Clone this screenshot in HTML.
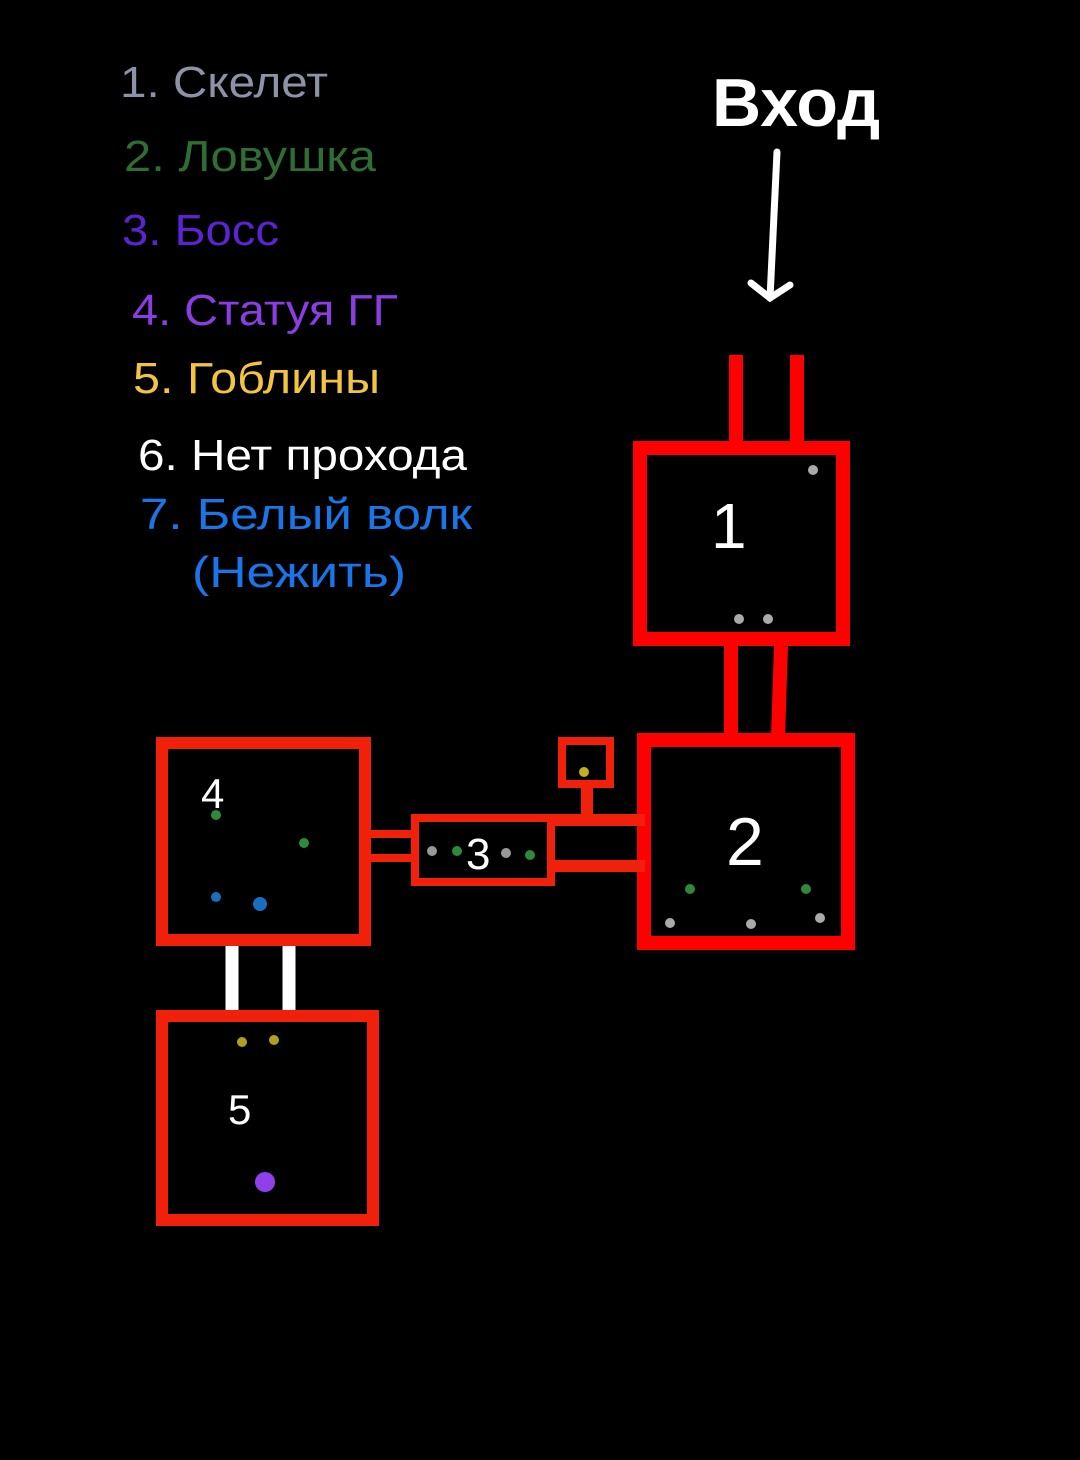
<!DOCTYPE html>
<html><head><meta charset="utf-8"><style>
html,body{margin:0;padding:0;background:#000;}
svg{display:block}
</style></head><body>
<svg width="1080" height="1460" viewBox="0 0 1080 1460" xmlns="http://www.w3.org/2000/svg">
<rect width="1080" height="1460" fill="#000"/>
<g font-family="Liberation Sans, DejaVu Sans, sans-serif" font-size="44" lengthAdjust="spacingAndGlyphs">
<text x="120" y="97" fill="#8d93a6" textLength="208" lengthAdjust="spacingAndGlyphs">1. Скелет</text>
<text x="124" y="171" fill="#2e6e35" textLength="252" lengthAdjust="spacingAndGlyphs">2. Ловушка</text>
<text x="122" y="245" fill="#5a25d0" textLength="157" lengthAdjust="spacingAndGlyphs">3. Босс</text>
<text x="132" y="325" fill="#8a3de0" textLength="266" lengthAdjust="spacingAndGlyphs">4. Статуя ГГ</text>
<text x="133" y="393" fill="#f2c440" textLength="247" lengthAdjust="spacingAndGlyphs">5. Гоблины</text>
<text x="138" y="470" fill="#ffffff" textLength="329" lengthAdjust="spacingAndGlyphs">6. Нет прохода</text>
<text x="140" y="529" fill="#1a75e8" textLength="332" lengthAdjust="spacingAndGlyphs">7. Белый волк</text>
<text x="192" y="587" fill="#1a75e8" textLength="214" lengthAdjust="spacingAndGlyphs">(Нежить)</text>
</g>
<text x="712" y="126" fill="#fff" font-family="Liberation Sans, sans-serif" font-weight="bold" font-size="68">Вход</text>
<g stroke="#fff" stroke-width="7" stroke-linecap="round" fill="none">
<line x1="777" y1="152" x2="770" y2="298"/>
<polyline points="751,283 770,298 790,285"/>
</g>
<g stroke="#ff0000" stroke-width="14" fill="none">
<line x1="736" y1="355" x2="736" y2="445"/>
<line x1="797" y1="355" x2="797" y2="445"/>
<rect x="640" y="448" width="203" height="191"/>
<line x1="731" y1="646" x2="731" y2="736"/>
<line x1="781" y1="646" x2="778" y2="736"/>
<rect x="644" y="740" width="204" height="203"/>
</g>
<g stroke="#f0200a" fill="none">
<rect x="562" y="741" width="48" height="43" stroke-width="8"/>
<line x1="587" y1="788" x2="587" y2="826" stroke-width="12"/>
<line x1="555" y1="820" x2="645" y2="820" stroke-width="12"/>
<line x1="555" y1="866" x2="645" y2="866" stroke-width="12"/>
<rect x="415" y="818" width="136" height="64" stroke-width="8"/>
<line x1="370" y1="834" x2="412" y2="834" stroke-width="8"/>
<line x1="370" y1="858" x2="412" y2="858" stroke-width="8"/>
<rect x="162" y="743" width="203" height="197" stroke-width="12"/>
<rect x="162" y="1016" width="211" height="204" stroke-width="12"/>
</g>
<g stroke="#fff" stroke-width="13">
<line x1="232" y1="946" x2="232" y2="1010"/>
<line x1="289" y1="946" x2="289" y2="1010"/>
</g>
<g font-family="Liberation Sans, sans-serif" fill="#fff">
<text x="711" y="548" font-size="64">1</text>
<text x="726" y="865" font-size="68">2</text>
<text x="466" y="869" font-size="44">3</text>
<text x="201" y="808" font-size="42">4</text>
<text x="228" y="1124" font-size="42">5</text>
</g>
<g>
<circle cx="813" cy="470" r="5" fill="#aaa"/>
<circle cx="739" cy="619" r="5" fill="#aaa"/>
<circle cx="768" cy="619" r="5" fill="#aaa"/>
<circle cx="690" cy="889" r="5" fill="#2e8a3a"/>
<circle cx="806" cy="889" r="5" fill="#2e8a3a"/>
<circle cx="670" cy="923" r="5" fill="#aaa"/>
<circle cx="751" cy="924" r="5" fill="#aaa"/>
<circle cx="820" cy="918" r="5" fill="#aaa"/>
<circle cx="432" cy="851" r="5" fill="#999"/>
<circle cx="457" cy="851" r="5" fill="#2e8a3a"/>
<circle cx="506" cy="853" r="5" fill="#999"/>
<circle cx="530" cy="855" r="5" fill="#2e8a3a"/>
<circle cx="584" cy="772" r="5" fill="#c0b020"/>
<circle cx="216" cy="815" r="5" fill="#2e8a3a"/>
<circle cx="304" cy="843" r="5" fill="#2e8a3a"/>
<circle cx="216" cy="897" r="5" fill="#1a6ec0"/>
<circle cx="260" cy="904" r="7" fill="#1a6ec0"/>
<circle cx="242" cy="1042" r="5" fill="#b0a020"/>
<circle cx="274" cy="1040" r="5" fill="#b0a020"/>
<circle cx="265" cy="1182" r="10" fill="#9040e8"/>
</g>
</svg>
</body></html>
